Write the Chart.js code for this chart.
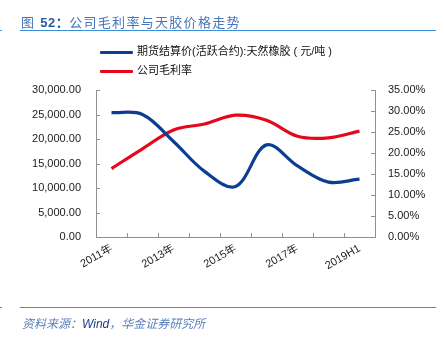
<!DOCTYPE html>
<html>
<head>
<meta charset="UTF-8">
<title>公司毛利率与天胶价格走势</title>
<script src="https://cdn.jsdelivr.net/npm/chart.js@4.4.1/dist/chart.umd.min.js"></script>
<style>
    body { margin: 0; background: #fff; }
    #wrap { position: relative; width: 444px; height: 343px; overflow: hidden;
        font-family: "Liberation Sans", Arial, "Noto Sans CJK SC", sans-serif; }
    #title { position: absolute; left: 21px; top: 12px; font-size: 13px; color: #4677bb;
        letter-spacing: 1.3px; white-space: nowrap; }
    #title b { color: #2b5aa3; letter-spacing: 0.5px; }
    .rule { position: absolute; height: 1px; background: #3a8fd6; }
    #legend { position: absolute; left: 100px; top: 42px; font-size: 11px; color: #111; }
    .item { position: relative; height: 19px; line-height: 18px; white-space: nowrap; }
    .item span.sw { display: inline-block; width: 33px; height: 3px; vertical-align: middle;
        margin-right: 4px; border-radius: 1px; }
    #source { position: absolute; left: 22px; top: 314px; font-size: 12px; font-style: italic;
        color: #5b80bb; white-space: nowrap; }
    #source em { color: #1e3f86; }
    canvas { position: absolute; left: 0; top: 0; }
</style>
</head>
<body>
<div id="wrap">
    <canvas id="chart" width="444" height="343"></canvas>
    <div id="title">图 <b>52：</b>公司毛利率与天胶价格走势</div>
    <div class="rule" style="left:20px;width:416px;top:30px;"></div>
    <div class="rule" style="left:0;width:2px;top:30px;"></div>
    <div id="legend">
        <div class="item"><span class="sw" style="background:#0b3e91"></span>期货结算价(活跃合约):天然橡胶 ( 元/吨 )</div>
        <div class="item"><span class="sw" style="background:#e3081c"></span>公司毛利率</div>
    </div>
    <div class="rule" style="left:20px;width:416px;top:307px;"></div>
    <div class="rule" style="left:0;width:2px;top:307px;"></div>
    <div id="source">资料来源：<em>Wind</em>，华金证券研究所</div>
</div>

<script>
    const categories = ["2011年", "2012年", "2013年", "2014年", "2015年", "2016年", "2017年", "2018年", "2019H1"];
    const rubberPrice = [25400, 25000, 19500, 13400, 10300, 18800, 14500, 11200, 11800];
    const grossMargin = [16.3, 21.0, 25.5, 26.9, 29.0, 27.8, 24.0, 23.6, 25.2];
    const priceLabel = "期货结算价(活跃合约):天然橡胶（元/吨）";
    const marginLabel = "公司毛利率";

    const AXIS = "#8f8f8f";
    const TEXT = "#1a1a1a";
    const FONT = { family: '"Liberation Sans", Arial, "Noto Sans CJK SC"', size: 11 };

    // small inward tick marks like the original
    const innerTicks = {
        id: "innerTicks",
        afterDraw(chart) {
            const ctx = chart.ctx, a = chart.chartArea;
            ctx.save();
            ctx.strokeStyle = AXIS;
            ctx.lineWidth = 1;
            ctx.beginPath();
            const y = chart.scales.y, y1 = chart.scales.y1, x = chart.scales.x;
            y.ticks.forEach(t => {
                const p = Math.round(y.getPixelForValue(t.value)) + 0.5;
                ctx.moveTo(a.left, p); ctx.lineTo(a.left + 4, p);
            });
            y1.ticks.forEach(t => {
                const p = Math.round(y1.getPixelForValue(t.value)) + 0.5;
                ctx.moveTo(a.right - 4, p); ctx.lineTo(a.right, p);
            });
            for (let i = 0; i <= categories.length; i++) {
                const p = Math.round(x.getPixelForValue(i - 0.5)) + 0.5;
                ctx.moveTo(p, a.bottom); ctx.lineTo(p, a.bottom - 4);
            }
            ctx.stroke();
            ctx.restore();
        }
    };

    new Chart(document.getElementById("chart"), {
        type: "line",
        data: {
            labels: categories,
            datasets: [
                {
                    label: priceLabel,
                    data: rubberPrice,
                    yAxisID: "y",
                    borderColor: "#0b3e91",
                    borderWidth: 3.2,
                    pointRadius: 0,
                    tension: 0.35,
                    fill: false
                },
                {
                    label: marginLabel,
                    data: grossMargin,
                    yAxisID: "y1",
                    borderColor: "#e3081c",
                    borderWidth: 3.2,
                    pointRadius: 0,
                    tension: 0.35,
                    fill: false
                }
            ]
        },
        options: {
            responsive: false,
            animation: false,
            layout: { padding: { top: 90, left: 0, right: 0, bottom: 0 } },
            plugins: { legend: { display: false }, tooltip: { enabled: false } },
            scales: {
                x: {
                    offset: true,
                    grid: { drawOnChartArea: false, drawTicks: false },
                    border: { color: AXIS },
                    ticks: {
                        autoSkip: false, minRotation: 30, maxRotation: 30, padding: 5,
                        color: TEXT, font: FONT,
                        callback: (v, i) => (i % 2 === 0 ? categories[i] : "")
                    },
                    afterFit: s => { s.height = 106; }
                },
                y: {
                    position: "left", min: 0, max: 30000,
                    grid: { drawOnChartArea: false, drawTicks: false },
                    border: { color: AXIS },
                    ticks: {
                        stepSize: 5000, padding: 15, color: TEXT, font: FONT,
                        callback: v => v.toLocaleString("en-US", { minimumFractionDigits: 2, maximumFractionDigits: 2 })
                    },
                    afterFit: s => { s.width = 96; }
                },
                y1: {
                    position: "right", min: 0, max: 35,
                    grid: { drawOnChartArea: false, drawTicks: false },
                    border: { color: AXIS },
                    ticks: {
                        stepSize: 5, padding: 13, color: TEXT, font: FONT,
                        callback: v => v.toFixed(2) + "%"
                    },
                    afterFit: s => { s.width = 69; }
                }
            }
        },
        plugins: [innerTicks]
    });
</script>
</body>
</html>
